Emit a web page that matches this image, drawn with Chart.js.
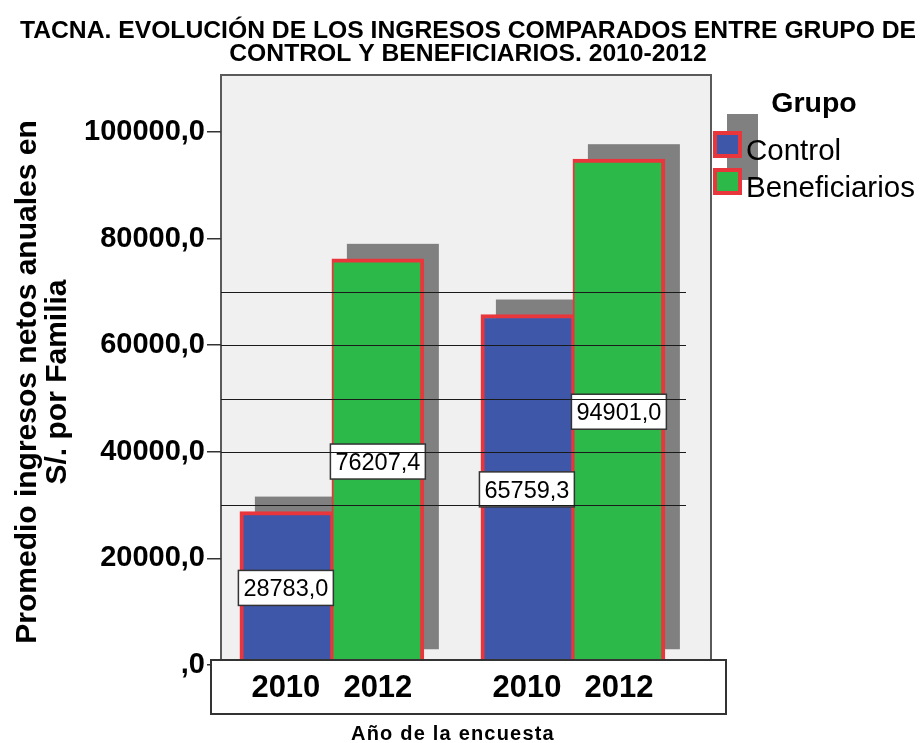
<!DOCTYPE html>
<html>
<head>
<meta charset="utf-8">
<script src="https://cdn.jsdelivr.net/npm/chart.js@4.4.0/dist/chart.umd.min.js"></script>
<style>
  html, body { margin: 0; padding: 0; background: #fff; }
  #wrap { width: 924px; height: 743px; }
</style>
</head>
<body>
<div id="wrap"><canvas id="ingresos" width="924" height="743"></canvas></div>
<script>
// valores
var parejas = [1, 2];
var control = [28783.0, 65759.3];
var beneficiarios = [76207.4, 94901.0];
var etiquetasAnio = ['2010', '2012', '2010', '2012'];
var ticksY = [0, 20000, 40000, 60000, 80000, 100000];
var lineasRef = [30000, 40000, 50000, 60000, 70000];

var titulo = ['TACNA. EVOLUCIÓN DE LOS INGRESOS COMPARADOS ENTRE GRUPO DE', 'CONTROL Y BENEFICIARIOS. 2010-2012'];
var tituloY = ['Promedio ingresos netos anuales en', 'S/. por Familia'];
var tituloX = 'Año de la encuesta';
var tituloLeyenda = 'Grupo';

var FONT = "'Liberation Sans', Arial, sans-serif";
var AZUL = '#3f57a9', VERDE = '#2db84a', ROJO = '#e8363c', SOMBRA = '#808080';

function fmt(v) {
    return v === 0 ? ',0' : Number(v).toFixed(1).replace('.', ',');
}

var decorado = {
    id: 'decorado',
    beforeDraw: function(chart) {
        var ctx = chart.ctx, a = chart.chartArea;
        ctx.save();
        ctx.fillStyle = '#fff';
        ctx.fillRect(0, 0, chart.width, chart.height);
        ctx.fillStyle = '#f0f0f0';
        ctx.fillRect(a.left, a.top, a.right - a.left, a.bottom - a.top);
        ctx.strokeStyle = '#5a5a5a';
        ctx.lineWidth = 2;
        ctx.beginPath();
        ctx.moveTo(a.left, a.bottom);
        ctx.lineTo(a.left, a.top);
        ctx.lineTo(a.right, a.top);
        ctx.lineTo(a.right, a.bottom);
        ctx.stroke();
        ctx.restore();
    },
    beforeDatasetsDraw: function(chart) {
        // sombra gris de cada barra
        var ctx = chart.ctx;
        ctx.save();
        ctx.fillStyle = SOMBRA;
        chart.data.datasets.forEach(function(ds, d) {
            chart.getDatasetMeta(d).data.forEach(function(bar) {
                ctx.fillRect(bar.x - bar.width / 2 + 15, bar.y - 15, bar.width, bar.base - bar.y);
            });
        });
        ctx.restore();
    },
    afterDatasetsDraw: function(chart) {
        var ctx = chart.ctx, a = chart.chartArea;
        ctx.save();
        // etiquetas de valor en el centro de la barra
        ctx.font = '23.5px ' + FONT;
        ctx.textAlign = 'center';
        ctx.textBaseline = 'alphabetic';
        chart.data.datasets.forEach(function(ds, d) {
            chart.getDatasetMeta(d).data.forEach(function(bar, i) {
                var txt = fmt(ds.data[i]);
                var w = ctx.measureText(txt).width + 10, h = 35;
                var cy = (bar.y + bar.base) / 2;
                ctx.fillStyle = '#fff';
                ctx.fillRect(bar.x - w / 2, cy - h / 2, w, h);
                ctx.strokeStyle = '#333';
                ctx.lineWidth = 1.5;
                ctx.strokeRect(bar.x - w / 2, cy - h / 2, w, h);
                ctx.fillStyle = '#000';
                ctx.fillText(txt, bar.x, cy + 8.5);
            });
        });
        // lineas de referencia
        var y = chart.scales.y;
        ctx.strokeStyle = '#1a1a1a';
        ctx.lineWidth = 1.2;
        lineasRef.forEach(function(v) {
            var py = Math.round(y.getPixelForValue(v)) + 0.5;
            ctx.beginPath();
            ctx.moveTo(a.left, py);
            ctx.lineTo(a.right - 25, py);
            ctx.stroke();
        });
        // caja del eje x
        ctx.fillStyle = '#fff';
        ctx.fillRect(a.left - 10, a.bottom - 5, a.right - a.left + 25, 54);
        ctx.strokeStyle = '#333';
        ctx.lineWidth = 2;
        ctx.strokeRect(a.left - 10, a.bottom - 5, a.right - a.left + 25, 54);
        ctx.fillStyle = '#000';
        ctx.font = 'bold 31px ' + FONT;
        chart.data.datasets.forEach(function(ds, d) {
            chart.getDatasetMeta(d).data.forEach(function(bar, i) {
                ctx.fillText(etiquetasAnio[i * 2 + d], bar.x, a.bottom + 32);
            });
        });
        ctx.restore();
    },
    afterDraw: function(chart) {
        var ctx = chart.ctx, a = chart.chartArea;
        ctx.save();
        ctx.fillStyle = '#000';
        ctx.textAlign = 'center';
        ctx.textBaseline = 'alphabetic';
        // titulo
        ctx.font = 'bold 24.7px ' + FONT;
        ctx.fillText(titulo[0], 468, 38);
        ctx.fillText(titulo[1], 468, 60.5);
        // titulo eje y
        ctx.save();
        ctx.translate(0, (a.top + a.bottom) / 2 + 12);
        ctx.rotate(-Math.PI / 2);
        ctx.font = 'bold 30px ' + FONT;
        ctx.fillText(tituloY[0], 0, 36);
        ctx.fillText(tituloY[1], 0, 66);
        ctx.restore();
        // titulo eje x
        ctx.font = 'bold 20px ' + FONT;
        ctx.letterSpacing = '1.2px';
        ctx.fillText(tituloX, (a.left + a.right) / 2 - 13, 740);
        ctx.letterSpacing = '0px';
        // leyenda
        var x0 = a.right + 2, tops = [a.top + 56, a.top + 93];
        ctx.fillStyle = SOMBRA;
        ctx.fillRect(x0 + 14, tops[0] - 17, 31, tops[1] + 27 - 15 - (tops[0] - 17));
        chart.data.datasets.forEach(function(ds, d) {
            ctx.fillStyle = ROJO;
            ctx.fillRect(x0, tops[d], 29, 27);
            ctx.fillStyle = ds.backgroundColor;
            ctx.fillRect(x0 + 4, tops[d] + 4, 21, 19);
        });
        ctx.fillStyle = '#000';
        ctx.font = 'bold 28.5px ' + FONT;
        ctx.fillText(tituloLeyenda, a.right + 103, a.top + 37);
        ctx.textAlign = 'left';
        ctx.font = '29.5px ' + FONT;
        chart.data.datasets.forEach(function(ds, d) {
            ctx.fillText(ds.label, x0 + 33, tops[d] + 29);
        });
        ctx.restore();
    }
};

new Chart(document.getElementById('ingresos'), {
    type: 'bar',
    data: {
        labels: parejas,
        datasets: [
            {
                label: 'Control',
                data: control,
                backgroundColor: AZUL,
                borderColor: ROJO,
                borderWidth: {top: 4, left: 4, right: 2, bottom: 0},
                borderSkipped: false,
                barThickness: 92
            },
            {
                label: 'Beneficiarios',
                data: beneficiarios,
                backgroundColor: VERDE,
                borderColor: ROJO,
                borderWidth: {top: 4, left: 2, right: 4, bottom: 0},
                borderSkipped: false,
                barThickness: 92
            }
        ]
    },
    options: {
        responsive: false,
        animation: false,
        devicePixelRatio: 1,
        layout: {padding: {top: 75, right: 213, left: 0, bottom: 0}},
        plugins: {
            legend: {display: false},
            title: {display: false},
            tooltip: {enabled: false}
        },
        scales: {
            x: {
                type: 'linear',
                offset: false,
                min: 0.54,
                max: 2.573,
                ticks: {display: false},
                grid: {display: false},
                border: {display: false},
                afterFit: function(s) { s.height = 78; }
            },
            y: {
                min: 0,
                max: 110700,
                afterBuildTicks: function(s) {
                    s.ticks = ticksY.map(function(v) { return {value: v}; });
                },
                afterFit: function(s) { s.width = 221; },
                ticks: {
                    callback: fmt,
                    color: '#000',
                    padding: 2,
                    font: {family: FONT, size: 29, weight: 'bold'}
                },
                grid: {
                    drawOnChartArea: false,
                    drawTicks: true,
                    tickLength: 14,
                    color: '#333',
                    lineWidth: 1.5
                },
                border: {display: false}
            }
        }
    },
    plugins: [decorado]
});
</script>
</body>
</html>
